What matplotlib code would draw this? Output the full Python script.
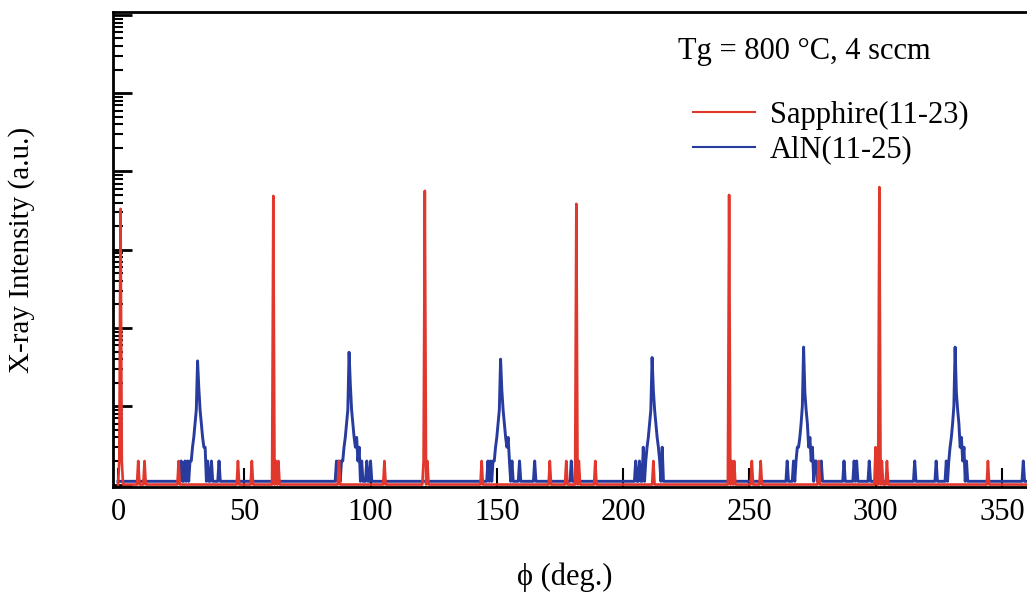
import matplotlib
matplotlib.use("Agg")
import matplotlib.pyplot as plt
import numpy as np

plt.rcParams['font.family'] = ['Liberation Serif', 'DejaVu Serif']

# scan grid (deg), 0.5 deg step
step = 0.5
phi = np.arange(0, 360 + step, step)

# Sapphire(11-23): counts above the baseline
sapphire_base = 1.0
sapphire_at = [0.5, 1.0, 1.5, 8.0, 10.5, 24.0, 47.5, 53.0, 61.5, 62.5, 63.5, 87.5,
               105.5, 121.0, 121.5, 122.5, 144.0, 171.0, 177.5, 181.5, 182.5, 189.0,
               212.0, 242.0, 243.0, 244.0, 251.0, 254.5, 277.5, 300.0, 301.5, 302.5,
               304.5, 344.5]
sapphire_cts = [2, 3330, 2, 2, 2, 2, 2, 2, 4870, 2, 2, 2,
                2, 2, 5650, 2, 2, 2, 2, 3855, 2, 2,
                2, 5010, 2, 2, 2, 2, 2, 3, 6320, 2,
                2, 2]

# AlN(11-25): counts above the baseline
aln_base = 1.1
aln_at = [25.0, 26.5, 27.5, 28.5, 29.0, 29.5, 30.0, 30.5, 31.0, 31.5, 32.0,
          32.5, 33.0, 33.5, 34.0, 34.5, 35.5, 37.0, 40.0,
          86.5, 87.5, 88.5, 89.0, 89.5, 90.0, 90.5, 91.0, 91.5, 92.0, 92.5,
          93.0, 93.5, 94.0, 94.5, 95.0, 95.5, 96.5, 98.5, 100.0,
          146.5, 147.5, 148.5, 149.0, 149.5, 150.0, 150.5, 151.0, 151.5,
          152.0, 152.5, 153.0, 153.5, 154.0, 154.5, 155.0, 156.0, 159.0, 165.0,
          179.5,
          205.0, 206.5, 208.0, 209.0, 209.5, 210.0, 210.5, 211.0,
          211.5, 212.0, 212.5, 213.0, 213.5, 214.0, 214.5, 215.5,
          265.0, 267.5, 268.5, 269.0, 269.5, 270.0, 270.5, 271.0, 271.5,
          272.0, 272.5, 273.0, 273.5, 274.0, 274.5, 275.0, 276.0, 276.5,
          278.5, 287.5, 291.5, 292.5, 297.5,
          315.5, 324.0, 328.0, 329.0, 329.5, 330.0, 330.5, 331.0, 331.5,
          332.0, 332.5, 333.0, 333.5, 334.0, 334.5, 335.0, 336.0, 358.5]
aln_cts = [2, 2, 2, 2, 2, 3, 4, 6, 9, 38, 17,
           9, 6, 4, 3, 3, 2, 2, 2,
           2, 2, 2, 2, 3, 4, 6, 9, 49, 19, 9,
           6, 4, 3, 4, 2, 3, 2, 2, 2,
           2, 2, 2, 2, 3, 4, 6, 9, 40,
           16, 9, 6, 4, 3, 4, 2, 2, 2, 2,
           2,
           2, 2, 3, 2, 3, 4, 6, 9,
           42, 16, 9, 6, 4, 3, 2, 3,
           2, 2, 2, 3, 3, 4, 6, 10, 57,
           15, 9, 6, 3, 4, 2, 3, 2, 2,
           2, 2, 2, 2, 2,
           2, 2, 2, 2, 3, 4, 6, 10, 57,
           15, 9, 6, 3, 4, 2, 3, 2, 2]


def trace(base, at, cts):
    y = np.full(phi.size, base)
    idx = np.rint(np.array(at) / step).astype(int)
    y[idx] = cts
    return y


red = '#e1372d'
blue = '#283ca0'

fig = plt.figure(figsize=(10.27, 6), dpi=100)
ax = fig.add_axes([0.110, 0.1883, 0.895, 0.7917])

ax.plot(phi, trace(aln_base, aln_at, aln_cts), color=blue, lw=2.1, label='AlN(11-25)')
ax.plot(phi, trace(sapphire_base, sapphire_at, sapphire_cts), color=red, lw=1.9,
        label='Sapphire(11-23)')

ax.set_yscale('log')
ax.set_ylim(0.93, 1.09e6)
ax.set_xlim(-2, 362)
ax.set_xticks(np.arange(0, 351, 50))
ax.set_yticklabels([], minor=True)
ax.set_yticklabels([])
ax.tick_params(axis='y', which='major', direction='in', length=14, width=2)
ax.tick_params(axis='y', which='minor', direction='in', length=7, width=1.5)
ax.tick_params(axis='x', direction='in', length=14, width=1.5, pad=8, labelsize=22)
for s in ax.spines.values():
    s.set_linewidth(2)
ax.set_axisbelow(True)

h, l = ax.get_legend_handles_labels()
leg = ax.legend(h[::-1], l[::-1], loc='upper left', bbox_to_anchor=(693 / 1027, 1 - 101 / 600),
                bbox_transform=fig.transFigure, frameon=False, fontsize=22, borderpad=0,
                borderaxespad=0, handlelength=2.03, handletextpad=0.49, labelspacing=0.17)
for ln in leg.get_lines():
    ln.set_linewidth(1.5)
fig.text(678 / 1027, 1 - 52 / 600, 'Tg = 800 °C, 4 sccm', fontsize=22, ha='left', va='center')
fig.text(22 / 1027, 1 - 250 / 600, 'X-ray Intensity (a.u.)', fontsize=21, rotation=90,
         ha='center', va='center')
fig.text(565 / 1027, 1 - 577 / 600, 'ϕ (deg.)', fontsize=22, ha='center', va='center')

fig.savefig('out.png', dpi=100)
